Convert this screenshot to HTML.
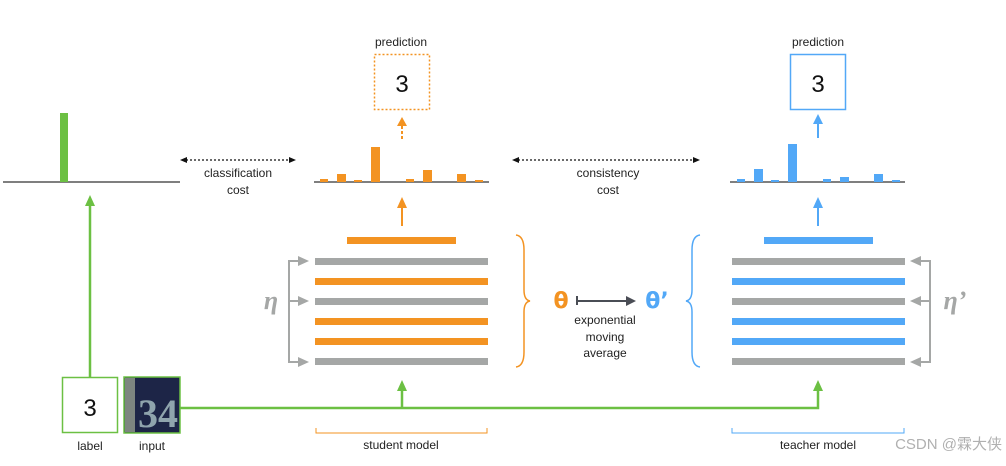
<!DOCTYPE html>
<html><head><meta charset="utf-8"><style>
body{margin:0;background:#fff;}
svg text{font-family:"Liberation Sans","Noto Sans CJK SC",sans-serif;}
</style></head><body>
<svg width="1006" height="461" viewBox="0 0 1006 461" xmlns="http://www.w3.org/2000/svg">
<!-- left histogram -->
<line x1="3" y1="182" x2="180" y2="182" stroke="#555" stroke-width="1.5"/>
<rect x="60" y="113" width="8" height="69" fill="#6cc043"/>
<!-- student histogram -->
<line x1="314" y1="182" x2="489" y2="182" stroke="#555" stroke-width="1.5"/>
<g fill="#f39322">
<rect x="320" y="179" width="8" height="3"/><rect x="337" y="174" width="9" height="8"/><rect x="354" y="180" width="8" height="2"/><rect x="371" y="147" width="9" height="35"/><rect x="406" y="179" width="8" height="3"/><rect x="423" y="170" width="9" height="12"/><rect x="457" y="174" width="9" height="8"/><rect x="475" y="180" width="8" height="2"/>
</g>
<!-- teacher histogram -->
<line x1="730" y1="182" x2="905" y2="182" stroke="#555" stroke-width="1.5"/>
<g fill="#52a8f7">
<rect x="737" y="179" width="8" height="3"/><rect x="754" y="169" width="9" height="13"/><rect x="771" y="180" width="8" height="2"/><rect x="788" y="144" width="9" height="38"/><rect x="823" y="179" width="8" height="3"/><rect x="840" y="177" width="9" height="5"/><rect x="874" y="174" width="9" height="8"/><rect x="892" y="180" width="8" height="2"/>
</g>
<!-- prediction boxes -->
<text x="401" y="46" font-size="12" text-anchor="middle" fill="#222">prediction</text>
<rect x="374.5" y="54.5" width="55" height="55" fill="none" stroke="#f39322" stroke-width="1.5" stroke-dasharray="2,2"/>
<text x="402" y="92" font-size="24" text-anchor="middle" fill="#111">3</text>
<text x="818" y="46" font-size="12" text-anchor="middle" fill="#222">prediction</text>
<rect x="790.5" y="54.5" width="55" height="55" fill="none" stroke="#52a8f7" stroke-width="1.5"/>
<text x="818" y="92" font-size="24" text-anchor="middle" fill="#111">3</text>
<!-- hist to prediction arrows -->
<line x1="402" y1="139" x2="402" y2="126" stroke="#f39322" stroke-width="2" stroke-dasharray="3,2"/>
<path d="M397,126 L407,126 L402,117 z" fill="#f39322"/>
<line x1="818" y1="138" x2="818" y2="124" stroke="#52a8f7" stroke-width="2"/>
<path d="M813,124 L823,124 L818,114 z" fill="#52a8f7"/>
<!-- cost arrows -->
<line x1="186" y1="160" x2="290" y2="160" stroke="#111" stroke-width="1.2" stroke-dasharray="2,2"/>
<path d="M180,160 L187,157 L187,163 z" fill="#111"/><path d="M296,160 L289,157 L289,163 z" fill="#111"/>
<text x="238" y="177" font-size="12" text-anchor="middle" fill="#222">classification</text>
<text x="238" y="194" font-size="12" text-anchor="middle" fill="#222">cost</text>
<line x1="518" y1="160" x2="694" y2="160" stroke="#111" stroke-width="1.2" stroke-dasharray="2,2"/>
<path d="M512,160 L519,157 L519,163 z" fill="#111"/><path d="M700,160 L693,157 L693,163 z" fill="#111"/>
<text x="608" y="177" font-size="12" text-anchor="middle" fill="#222">consistency</text>
<text x="608" y="194" font-size="12" text-anchor="middle" fill="#222">cost</text>
<!-- student layers -->
<rect x="347" y="237" width="109" height="7" fill="#f39322"/>
<rect x="315" y="258" width="173" height="7" fill="#a5a7a6"/>
<rect x="315" y="278" width="173" height="7" fill="#f39322"/>
<rect x="315" y="298" width="173" height="7" fill="#a5a7a6"/>
<rect x="315" y="318" width="173" height="7" fill="#f39322"/>
<rect x="315" y="338" width="173" height="7" fill="#f39322"/>
<rect x="315" y="358" width="173" height="7" fill="#a5a7a6"/>
<line x1="402" y1="226" x2="402" y2="208" stroke="#f39322" stroke-width="2"/>
<path d="M397,208 L407,208 L402,197 z" fill="#f39322"/>
<!-- teacher layers -->
<rect x="764" y="237" width="109" height="7" fill="#52a8f7"/>
<rect x="732" y="258" width="173" height="7" fill="#a5a7a6"/>
<rect x="732" y="278" width="173" height="7" fill="#52a8f7"/>
<rect x="732" y="298" width="173" height="7" fill="#a5a7a6"/>
<rect x="732" y="318" width="173" height="7" fill="#52a8f7"/>
<rect x="732" y="338" width="173" height="7" fill="#52a8f7"/>
<rect x="732" y="358" width="173" height="7" fill="#a5a7a6"/>
<line x1="818" y1="226" x2="818" y2="208" stroke="#52a8f7" stroke-width="2"/>
<path d="M813,208 L823,208 L818,197 z" fill="#52a8f7"/>
<!-- eta brackets -->
<g stroke="#a5a7a6" stroke-width="2" fill="none">
<path d="M300,261 L289,261 L289,362 L300,362 M289,301 L300,301"/>
<path d="M919,261 L930,261 L930,362 L919,362 M930,301 L919,301"/>
</g>
<g fill="#a5a7a6">
<path d="M298,256 L309,261 L298,266 z"/><path d="M298,296 L309,301 L298,306 z"/><path d="M298,357 L309,362 L298,367 z"/>
<path d="M921,256 L910,261 L921,266 z"/><path d="M921,296 L910,301 L921,306 z"/><path d="M921,357 L910,362 L921,367 z"/>
</g>
<text x="271" y="309" font-size="26" font-style="italic" font-weight="bold" fill="#a5a7a6" text-anchor="middle" style="font-family:'Liberation Serif',serif">η</text>
<text x="955" y="309" font-size="26" font-style="italic" font-weight="bold" fill="#a5a7a6" text-anchor="middle" style="font-family:'Liberation Serif',serif">η’</text>
<!-- braces -->
<path d="M516,235 Q524,236 524,250 L524,290 Q524,300 530,301 Q524,302 524,312 L524,352 Q524,366 516,367" fill="none" stroke="#f39322" stroke-width="1.5"/>
<path d="M700,235 Q692,236 692,250 L692,290 Q692,300 686,301 Q692,302 692,312 L692,352 Q692,366 700,367" fill="none" stroke="#52a8f7" stroke-width="1.5"/>
<!-- theta -->
<text x="561" y="308" font-size="22" font-weight="bold" fill="#f39322" text-anchor="middle" style="font-family:'DejaVu Sans',sans-serif">θ</text>
<text x="657" y="308" font-size="22" font-weight="bold" fill="#52a8f7" text-anchor="middle" style="font-family:'DejaVu Sans',sans-serif">θ’</text>
<line x1="577" y1="296" x2="577" y2="305" stroke="#4a4d55" stroke-width="2"/>
<line x1="577" y1="301" x2="627" y2="301" stroke="#4a4d55" stroke-width="2"/>
<path d="M626,296 L636,301 L626,306 z" fill="#4a4d55"/>
<text x="605" y="324" font-size="12" text-anchor="middle" fill="#222">exponential</text>
<text x="605" y="341" font-size="12" text-anchor="middle" fill="#222">moving</text>
<text x="605" y="357" font-size="12" text-anchor="middle" fill="#222">average</text>
<!-- green connections -->
<g stroke="#6cc043" stroke-width="2.5" fill="none">
<line x1="90" y1="377" x2="90" y2="205"/>
<path d="M180,408 L818,408 L818,390"/>
<line x1="402" y1="408" x2="402" y2="390"/>
</g>
<g fill="#6cc043">
<path d="M85,206 L95,206 L90,195 z"/>
<path d="M397,391 L407,391 L402,380 z"/>
<path d="M813,391 L823,391 L818,380 z"/>
</g>
<rect x="62.5" y="377.5" width="55" height="55" fill="#fff" stroke="#6cc043" stroke-width="1.5"/>
<text x="90" y="416" font-size="24" text-anchor="middle" fill="#111">3</text>
<rect x="124" y="377" width="56" height="56" fill="#1d2547" stroke="#6cc043" stroke-width="1.5"/>
<rect x="125" y="378" width="10" height="54" fill="#7d8580"/>
<text x="158" y="427" font-size="40" font-weight="bold" fill="#8fa4ad" text-anchor="middle" style="font-family:'Liberation Serif',serif">34</text>
<text x="90" y="450" font-size="12" text-anchor="middle" fill="#222">label</text>
<text x="152" y="450" font-size="12" text-anchor="middle" fill="#222">input</text>
<!-- bottom brackets -->
<path d="M316,428 L316,433 L487,433 L487,428" fill="none" stroke="#f39322" stroke-width="1"/>
<text x="401" y="449" font-size="12" text-anchor="middle" fill="#222">student model</text>
<path d="M732,428 L732,433 L904,433 L904,428" fill="none" stroke="#52a8f7" stroke-width="1"/>
<text x="818" y="449" font-size="12" text-anchor="middle" fill="#222">teacher model</text>
<text x="1002" y="449" font-size="15" text-anchor="end" fill="#b0b0b0">CSDN @霖大侠</text>
</svg>
</body></html>
